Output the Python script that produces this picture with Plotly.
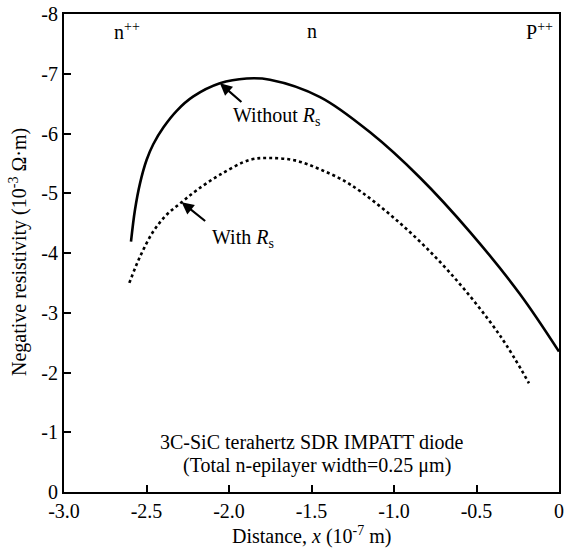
import plotly.graph_objects as go

# Data
x_without = [-2.594, -2.570, -2.539, -2.499, -2.459, -2.398, -2.317, -2.216, -2.055, -1.893, -1.752, -1.448, -1.145, -0.842, -0.539, -0.236, 0.0]
y_without = [-4.19, -4.72, -5.17, -5.56, -5.82, -6.10, -6.38, -6.62, -6.84, -6.92, -6.90, -6.61, -6.02, -5.26, -4.35, -3.31, -2.35]

x_with = [-2.604, -2.539, -2.459, -2.378, -2.287, -2.196, -2.055, -1.873, -1.752, -1.600, -1.448, -1.267, -0.964, -0.661, -0.358, -0.182]
y_with = [-3.50, -3.94, -4.36, -4.64, -4.85, -5.05, -5.31, -5.56, -5.59, -5.55, -5.40, -5.15, -4.50, -3.67, -2.62, -1.82]

x_ticks = [-3.0, -2.5, -2.0, -1.5, -1.0, -0.5, 0.0]
x_ticktext = ["-3.0", "-2.5", "-2.0", "-1.5", "-1.0", "-0.5", "0"]
y_ticks = [0, -1, -2, -3, -4, -5, -6, -7, -8]
y_ticktext = ["0", "-1", "-2", "-3", "-4", "-5", "-6", "-7", "-8"]

FONT = "Liberation Serif, Times New Roman, serif"
FS = 20

fig = go.Figure()
fig.add_trace(go.Scatter(x=x_without, y=y_without, mode="lines",
                         line=dict(color="black", width=2.6, shape="spline", smoothing=1.0),
                         showlegend=False, hoverinfo="skip"))
fig.add_trace(go.Scatter(x=x_with, y=y_with, mode="lines",
                         line=dict(color="black", width=2.6, dash="dot", shape="spline", smoothing=1.0),
                         showlegend=False, hoverinfo="skip"))

annotations = [
    # arrows
    dict(x=-2.055, y=-6.84, ax=23, ay=20, text="", showarrow=True,
         arrowhead=2, arrowsize=1.1, arrowwidth=2.2, arrowcolor="black"),
    dict(x=-2.287, y=-4.85, ax=25, ay=20, text="", showarrow=True,
         arrowhead=2, arrowsize=1.1, arrowwidth=2.2, arrowcolor="black"),
    # labels
    dict(x=-1.99, y=-6.28, text="Without <i>R</i><sub>s</sub>", showarrow=False,
         xanchor="left", yanchor="middle", font=dict(size=FS)),
    dict(x=-2.115, y=-4.25, text="With <i>R</i><sub>s</sub>", showarrow=False,
         xanchor="left", yanchor="middle", font=dict(size=FS)),
    # region labels
    dict(x=-2.62, y=-7.72, text="n<sup>++</sup>", showarrow=False,
         xanchor="center", yanchor="middle", font=dict(size=FS)),
    dict(x=-1.5, y=-7.72, text="n", showarrow=False,
         xanchor="center", yanchor="middle", font=dict(size=FS)),
    dict(x=-0.12, y=-7.72, text="P<sup>++</sup>", showarrow=False,
         xanchor="center", yanchor="middle", font=dict(size=FS)),
    # description
    dict(x=-1.5, y=-0.84, text="3C-SiC terahertz SDR IMPATT diode", showarrow=False,
         xanchor="center", yanchor="middle", font=dict(size=FS)),
    dict(x=-1.465, y=-0.44, text="(Total n-epilayer width=0.25 μm)", showarrow=False,
         xanchor="center", yanchor="middle", font=dict(size=FS)),
    # axis titles
    dict(xref="paper", yref="paper", x=0.501, y=-0.09,
         text="Distance, <i>x</i> (10<sup>-7</sup> m)", showarrow=False,
         xanchor="center", yanchor="middle", font=dict(size=FS)),
    dict(xref="paper", yref="paper", x=-0.093, y=0.502, textangle=-90,
         text="Negative resistivity (10<sup>-3</sup> Ω·m)", showarrow=False,
         xanchor="center", yanchor="middle", font=dict(size=FS)),
]

fig.update_layout(
    width=565, height=549,
    margin=dict(l=64, r=6, t=14, b=57, autoexpand=False),
    paper_bgcolor="white", plot_bgcolor="white",
    font=dict(family=FONT, size=FS, color="black"),
    annotations=annotations,
    showlegend=False,
)
fig.update_xaxes(range=[-3.0, 0.0], tickvals=x_ticks, ticktext=x_ticktext,
                 ticks="inside", ticklen=7, tickwidth=1.5, tickcolor="black",
                 showline=True, linecolor="black", linewidth=2, mirror=True,
                 showgrid=False, zeroline=False, automargin=False,
                 ticklabeloverflow="allow", tickfont=dict(size=FS))
fig.update_yaxes(range=[0, -8], tickvals=y_ticks, ticktext=y_ticktext,
                 ticks="inside", ticklen=7, tickwidth=1.5, tickcolor="black",
                 showline=True, linecolor="black", linewidth=2, mirror=True,
                 showgrid=False, zeroline=False, automargin=False,
                 ticklabeloverflow="allow", tickfont=dict(size=FS))

# remove the default page margin so the 565x549 figure fills the window exactly
fig.write_html("out.html", config={"displayModeBar": False},
               post_script="document.body.style.margin='0';")
